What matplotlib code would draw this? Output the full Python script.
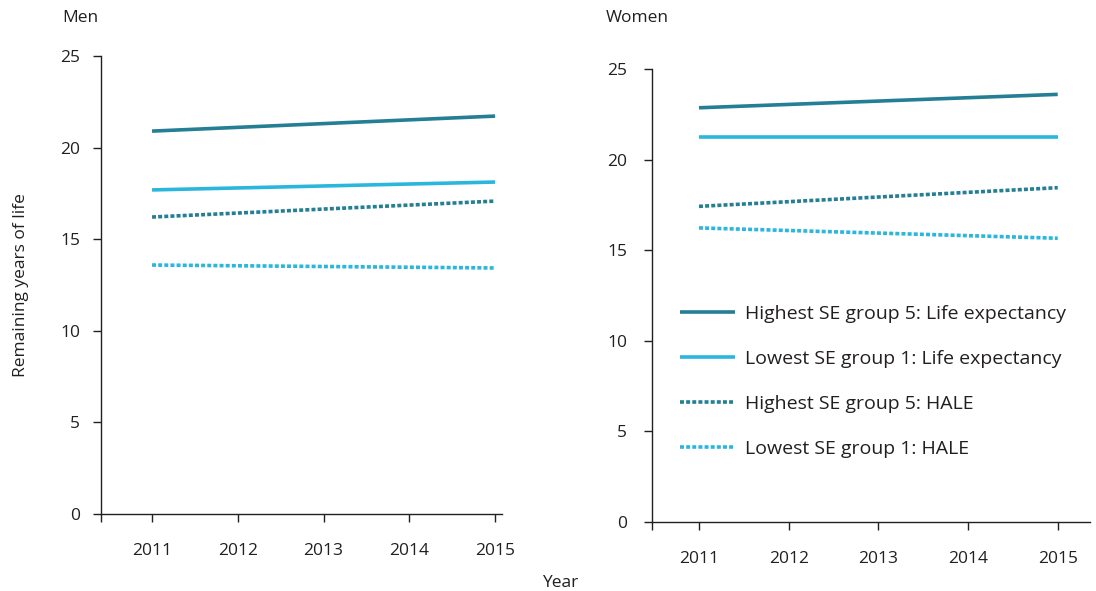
import matplotlib
matplotlib.use('Agg')
import matplotlib.pyplot as plt

plt.rcParams['font.family'] = ['Open Sans', 'DejaVu Sans']

YEARS = [2011, 2015]
SERIES = ['Highest SE group 5: Life expectancy', 'Lowest SE group 1: Life expectancy',
          'Highest SE group 5: HALE', 'Lowest SE group 1: HALE']
MEN = [[20.9, 21.72], [17.69, 18.12], [16.21, 17.08], [13.59, 13.43]]
WOMEN = [[22.86, 23.6], [21.25, 21.25], [17.42, 18.45], [16.23, 15.66]]
TICK_YEARS = [2011, 2012, 2013, 2014, 2015]

DARK = '#247f94'
LIGHT = '#2bb6de'
STYLES = [(DARK, '-'), (LIGHT, '-'), (DARK, (0, (1.1, 0.6))), (LIGHT, (0, (1.1, 0.6)))]
TXT = '#231f20'


def panel(ax, values, xlim, title, title_xy, ypad):
    for vals, label, (c, ls) in zip(values, SERIES, STYLES):
        ax.plot(YEARS, vals, color=c, ls=ls, lw=2.6, label=label, solid_capstyle='butt')
    ax.set_xlim(*xlim)
    ax.set_ylim(0, 25)
    ax.set_yticks([0, 5, 10, 15, 20, 25])
    ax.set_xticks(TICK_YEARS)
    ax.set_xticks([xlim[0]], minor=True)
    for s in ['top', 'right']:
        ax.spines[s].set_visible(False)
    for s in ['left', 'bottom']:
        ax.spines[s].set_linewidth(1.0)
        ax.spines[s].set_color(TXT)
    ax.tick_params(axis='y', length=6, width=1.0, pad=ypad, labelsize=12.5, colors=TXT)
    ax.tick_params(axis='x', which='both', length=6, width=1.0, pad=15, labelsize=12.5, colors=TXT)
    ax.text(title_xy[0], title_xy[1], title, transform=ax.transAxes,
            fontsize=12.5, color=TXT, va='center')


fig = plt.figure(figsize=(10.96, 5.91), dpi=100)
ax1 = fig.add_axes([101 / 1096, 1 - 514 / 591, 401 / 1096, 458 / 591])
ax2 = fig.add_axes([652 / 1096, 1 - 522 / 591, 438 / 1096, 453 / 591])

panel(ax1, MEN, (2010.405, 2015.08), 'Men', (-0.097, 1.083), 9)
panel(ax2, WOMEN, (2010.476, 2015.36), 'Women', (-0.105, 1.1126), 12)

ax1.set_ylabel('Remaining years of life', fontsize=12.5, color=TXT)
ax1.yaxis.set_label_coords(-0.18, 0.5)
fig.text(560 / 1096, 1 - 583 / 591, 'Year', fontsize=12.5, color=TXT, ha='center', va='center')

ax2.legend(loc='upper left', bbox_to_anchor=(0.064, 0.479), frameon=False,
           fontsize=14, handlelength=2.85, handletextpad=0.5, labelspacing=1.38,
           borderpad=0, borderaxespad=0, labelcolor=TXT)

fig.savefig('out.png', dpi=100)
